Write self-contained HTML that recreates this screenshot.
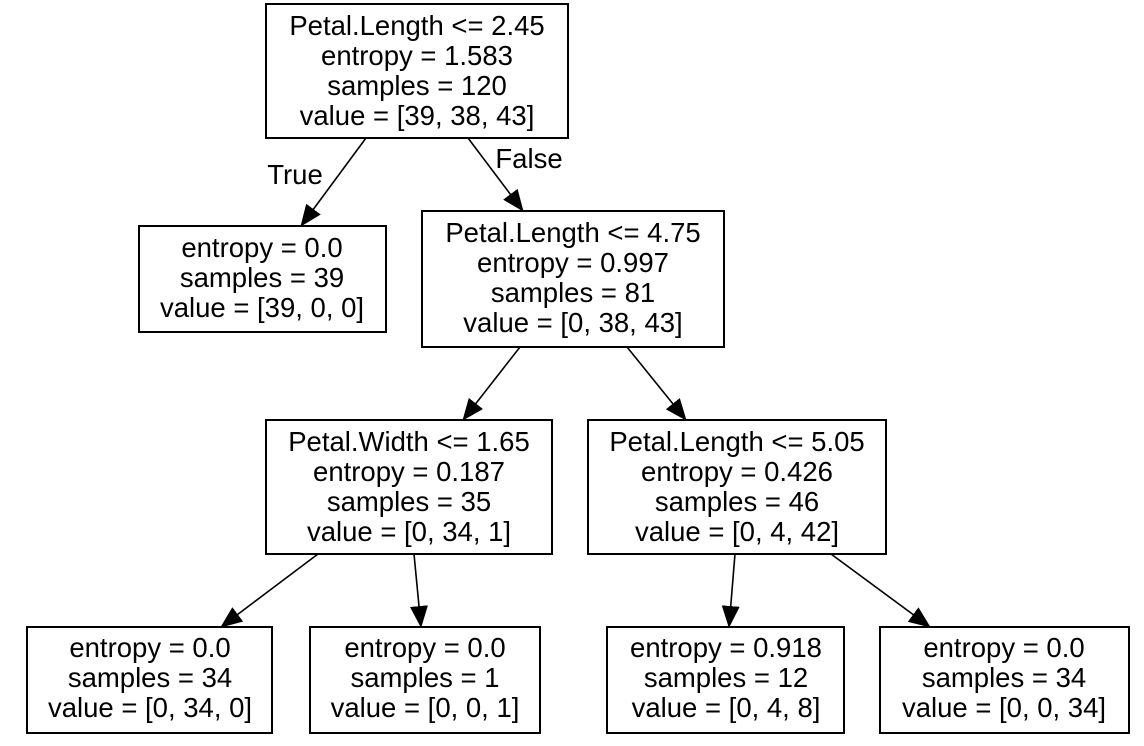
<!DOCTYPE html>
<html><head><meta charset="utf-8"><style>
html,body{margin:0;padding:0;background:#fff;}
svg{display:block;}
text{font-family:"Liberation Sans",Arial,sans-serif;font-size:27.5px;fill:#000;text-anchor:middle;}
rect{fill:#fff;stroke:#000;stroke-width:2;}
line{stroke:#000;stroke-width:1.6;}
</style></head><body>
<svg width="1144" height="746" viewBox="0 0 1144 746" xmlns="http://www.w3.org/2000/svg">
<defs><marker id="a" markerWidth="22" markerHeight="18" refX="21" refY="9" orient="auto" markerUnits="userSpaceOnUse"><path d="M0,0 L22,9 L0,18 z" fill="#000"/></marker></defs>
<rect x="266" y="4" width="302" height="134"/>
<text x="417" y="35">Petal.Length &lt;= 2.45</text>
<text x="417" y="65">entropy = 1.583</text>
<text x="417" y="95">samples = 120</text>
<text x="417" y="125">value = [39, 38, 43]</text>

<rect x="139" y="226" width="247" height="106"/>
<text x="262" y="257">entropy = 0.0</text>
<text x="262" y="287">samples = 39</text>
<text x="262" y="317">value = [39, 0, 0]</text>

<rect x="422" y="211" width="302" height="136"/>
<text x="573" y="242">Petal.Length &lt;= 4.75</text>
<text x="573" y="272">entropy = 0.997</text>
<text x="573" y="302">samples = 81</text>
<text x="573" y="332">value = [0, 38, 43]</text>

<rect x="266" y="420" width="286" height="134"/>
<text x="409" y="451">Petal.Width &lt;= 1.65</text>
<text x="409" y="481">entropy = 0.187</text>
<text x="409" y="511">samples = 35</text>
<text x="409" y="541">value = [0, 34, 1]</text>

<rect x="588" y="420" width="298" height="134"/>
<text x="737" y="451">Petal.Length &lt;= 5.05</text>
<text x="737" y="481">entropy = 0.426</text>
<text x="737" y="511">samples = 46</text>
<text x="737" y="541">value = [0, 4, 42]</text>

<rect x="27" y="627" width="245" height="106"/>
<text x="150" y="657">entropy = 0.0</text>
<text x="150" y="687">samples = 34</text>
<text x="150" y="717">value = [0, 34, 0]</text>

<rect x="310" y="627" width="230" height="106"/>
<text x="425" y="657">entropy = 0.0</text>
<text x="425" y="687">samples = 1</text>
<text x="425" y="717">value = [0, 0, 1]</text>

<rect x="607" y="627" width="237" height="106"/>
<text x="726" y="657">entropy = 0.918</text>
<text x="726" y="687">samples = 12</text>
<text x="726" y="717">value = [0, 4, 8]</text>

<rect x="880" y="627" width="249" height="106"/>
<text x="1004" y="657">entropy = 0.0</text>
<text x="1004" y="687">samples = 34</text>
<text x="1004" y="717">value = [0, 0, 34]</text>

<line x1="366" y1="138" x2="301" y2="226" marker-end="url(#a)"/>
<line x1="468" y1="138" x2="523" y2="211" marker-end="url(#a)"/>
<line x1="520" y1="347" x2="463" y2="420" marker-end="url(#a)"/>
<line x1="627" y1="347" x2="686" y2="420" marker-end="url(#a)"/>
<line x1="318" y1="554" x2="221" y2="627" marker-end="url(#a)"/>
<line x1="414" y1="554" x2="421" y2="627" marker-end="url(#a)"/>
<line x1="735" y1="554" x2="729" y2="627" marker-end="url(#a)"/>
<line x1="831" y1="554" x2="930" y2="627" marker-end="url(#a)"/>

<text x="295" y="184">True</text>
<text x="529" y="168">False</text>
</svg>
</body></html>
